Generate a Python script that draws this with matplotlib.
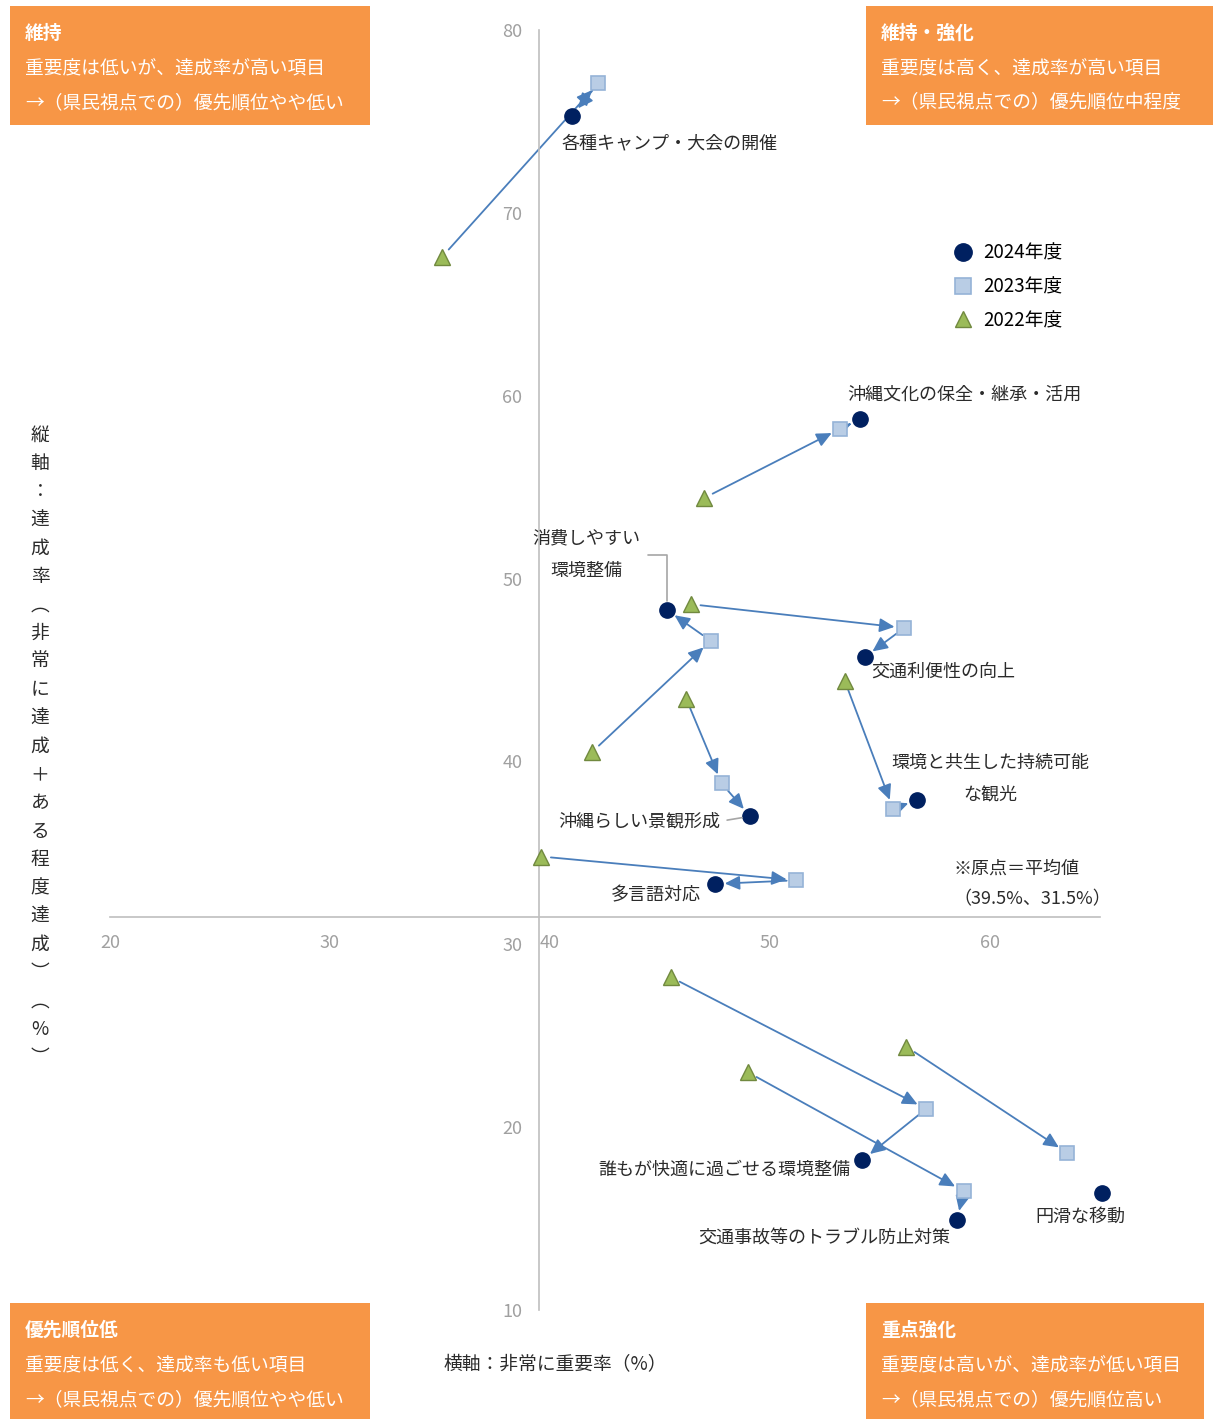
import matplotlib
matplotlib.use('Agg')
import matplotlib.pyplot as plt
from matplotlib.lines import Line2D
from matplotlib.patches import Rectangle

plt.rcParams['font.family'] = ['Noto Sans CJK JP', 'DejaVu Sans']

# --- data (importance rate %, achievement rate %) ---
items = ['各種キャンプ・大会の開催', '沖縄文化の保全・継承・活用', '消費しやすい\n環境整備',
         '交通利便性の向上', '沖縄らしい景観形成', '環境と共生した持続可能\nな観光',
         '多言語対応', '誰もが快適に過ごせる環境整備', '交通事故等のトラブル防止対策', '円滑な移動']
x_2022 = [35.1, 47.0, 41.9, 46.4, 46.2, 53.4, 39.6, 45.5, 49.0, 56.2]
y_2022 = [67.6, 54.4, 40.5, 48.6, 43.4, 44.4, 34.8, 28.2, 23.0, 24.4]
x_2023 = [42.2, 53.2, 47.3, 56.1, 47.8, 55.6, 51.2, 57.1, 58.8, 63.5]
y_2023 = [77.1, 58.2, 46.6, 47.3, 38.8, 37.4, 33.5, 21.0, 16.5, 18.6]
x_2024 = [41.0, 54.1, 45.3, 54.3, 49.1, 56.7, 47.5, 54.2, 58.5, 65.1]
y_2024 = [75.3, 58.7, 48.3, 45.7, 37.0, 37.9, 33.3, 18.2, 14.9, 16.4]
years = ['2024年度', '2023年度', '2022年度']
origin_x, origin_y = 39.5, 31.5

x_ticks = [20, 30, 40, 50, 60]
y_ticks = [10, 20, 30, 40, 50, 60, 70, 80]

quadrants = [
    ('維持', '重要度は低いが、達成率が高い項目', '→（県民視点での）優先順位やや低い'),
    ('維持・強化', '重要度は高く、達成率が高い項目', '→（県民視点での）優先順位中程度'),
    ('優先順位低', '重要度は低く、達成率も低い項目', '→（県民視点での）優先順位やや低い'),
    ('重点強化', '重要度は高いが、達成率が低い項目', '→（県民視点での）優先順位高い'),
]

# label layout: (dx px, dy px up, ha, leader)
label_layout = [(-11, -27, 'left', None), (-13, 25, 'left', None), (-80, 55, 'center', 'angle'),
                (7, -14, 'left', None), (-30, -5, 'right', 'straight'), (73, 21, 'center', None),
                (-59, -11, 'center', None), (-12, -10, 'right', None), (-7, -18, 'right', None),
                (-22, -24, 'center', None)]

W, H = 1213, 1419
TEXT = '#2b2b2b'
ARROW = '#4A7EBB'
ORANGE = '#F79646'


def fx(px):
    return px / W


def fy(py):
    return 1 - py / H


fig = plt.figure(figsize=(W / 100, H / 100), dpi=100)
ax = fig.add_axes([fx(110), fy(1310), 990 / W, 1280 / H])
ax.set_xlim(20, 65)
ax.set_ylim(10, 80)
ax.set_xticks(x_ticks)
ax.set_yticks(y_ticks)
for s in ['top', 'right']:
    ax.spines[s].set_visible(False)
ax.spines['left'].set_position(('data', origin_x))
ax.spines['bottom'].set_position(('data', origin_y))
for s in ['left', 'bottom']:
    ax.spines[s].set_color('#BFBFBF')
    ax.spines[s].set_linewidth(1.2)
ax.tick_params(length=0, pad=12, labelsize=13, labelcolor='#A0A0A0')

# arrows 2022 -> 2023 -> 2024
arrow_kw = dict(arrowstyle='-|>,head_length=0.6,head_width=0.28', color=ARROW, lw=1.3,
                shrinkA=7, shrinkB=7, mutation_scale=15)
for i in range(len(items)):
    ax.annotate('', xy=(x_2023[i], y_2023[i]), xytext=(x_2022[i], y_2022[i]),
                arrowprops=arrow_kw, zorder=2)
    ax.annotate('', xy=(x_2024[i], y_2024[i]), xytext=(x_2023[i], y_2023[i]),
                arrowprops=arrow_kw, zorder=2)

ax.plot(x_2022, y_2022, ls='none', marker='^', ms=11, mfc='#9BBB59', mec='#71893F', mew=1,
        zorder=3, clip_on=False)
ax.plot(x_2023, y_2023, ls='none', marker='s', ms=10.5, mfc='#B9CDE5', mec='#95B3D7', mew=1.2,
        zorder=3, clip_on=False)
ax.plot(x_2024, y_2024, ls='none', marker='o', ms=11, mfc='#002060', mec='#002060',
        zorder=4, clip_on=False)

for i, name in enumerate(items):
    dx, dy, ha, leader = label_layout[i]
    props = None
    if leader == 'angle':
        props = dict(arrowstyle='-', color='#A6A6A6', lw=1.2, shrinkA=3, shrinkB=6,
                     relpos=(1, 0.5), connectionstyle='angle,angleA=0,angleB=90,rad=0')
    elif leader == 'straight':
        props = dict(arrowstyle='-', color='#A6A6A6', lw=1.2, shrinkA=3, shrinkB=6,
                     relpos=(1, 0.5))
    ax.annotate(name, xy=(x_2024[i], y_2024[i]), xytext=(dx, dy), textcoords='offset pixels',
                ha=ha, va='center', fontsize=13, color=TEXT, linespacing=2.0,
                arrowprops=props, zorder=5, annotation_clip=False)

fig.text(fx(953), fy(884), '※原点＝平均値\n（39.5%、31.5%）', ha='left', va='center',
         fontsize=13, color=TEXT, linespacing=1.85)

# legend
handles = [
    Line2D([], [], ls='none', marker='o', ms=12.5, mfc='#002060', mec='#002060'),
    Line2D([], [], ls='none', marker='s', ms=11.5, mfc='#B9CDE5', mec='#95B3D7', mew=1.2),
    Line2D([], [], ls='none', marker='^', ms=12, mfc='#9BBB59', mec='#71893F'),
]
ax.legend(handles, years, loc='upper left', bbox_to_anchor=(fx(946), fy(235)),
          bbox_transform=fig.transFigure, frameon=False, fontsize=13.5, handlelength=1.0,
          handletextpad=0.6, labelspacing=0.68, borderaxespad=0, borderpad=0.4)

# axis titles
fig.text(fx(555), fy(1365), '横軸：非常に重要率（%）', ha='center', va='center', fontsize=13.5, color=TEXT)
ylabel = '縦軸：達成率︵非常に達成＋ある程度達成︶︵%︶'
for k, ch in enumerate(ylabel):
    fig.text(fx(40), fy(435 + k * 28.3), ch, ha='center', va='center', fontsize=13.5, color=TEXT)

# quadrant boxes
boxes = [(10, 6, 360, 119), (866, 6, 347, 119), (10, 1303, 360, 116), (866, 1303, 338, 116)]
for (bx, by, bw, bh), (title, line1, line2) in zip(boxes, quadrants):
    fig.patches.append(Rectangle((fx(bx), fy(by + bh)), bw / W, bh / H, transform=fig.transFigure,
                                 facecolor=ORANGE, edgecolor='none', zorder=0))
    fig.text(fx(bx + 15), fy(by + 27), title, ha='left', va='center', fontsize=13.5,
             fontweight='bold', color='white')
    fig.text(fx(bx + 15), fy(by + 63), line1, ha='left', va='center', fontsize=13.5, color='white')
    fig.text(fx(bx + 15), fy(by + 97), line2, ha='left', va='center', fontsize=13.5, color='white')

fig.savefig('out.png', dpi=100)
